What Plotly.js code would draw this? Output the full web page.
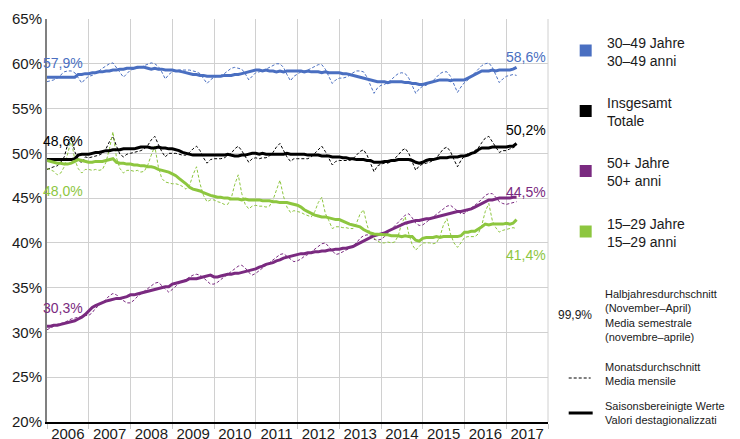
<!DOCTYPE html>
<html>
<head>
<meta charset="utf-8">
<script src="https://cdn.plot.ly/plotly-3.0.1.min.js"></script>
<style>html,body{margin:0;padding:0;background:#fff;}#chart{width:740px;height:439px;}</style>
</head>
<body>
<div id="chart"></div>
<script>
// ---- Data (monthly, Jan 2006 – Apr 2017) ----
const startYear = 2006;
const seriesNames = ["30–49 Jahre<br>30–49 anni", "Insgesamt<br>Totale", "50+ Jahre<br>50+ anni", "15–29 Jahre<br>15–29 anni"];
const seriesColors = ["#4a6fc1", "#000000", "#7a2a80", "#8dc63f"];
const startLabels = ["57,9%", "48,6%", "30,3%", "48,0%"];
const endLabels = ["58,6%", "50,2%", "44,5%", "41,4%"];

// 30–49 Jahre: seasonally adjusted
const sa3049 = [
58.5,58.5,58.5,58.5,58.5,58.5,58.5,58.5,58.5,58.8,58.8,58.9,
58.9,59.0,59.0,59.1,59.1,59.2,59.2,59.3,59.3,59.4,59.4,59.5,
59.5,59.5,59.6,59.6,59.6,59.5,59.4,59.5,59.4,59.4,59.3,59.3,
59.3,59.2,59.2,59.1,59.0,58.9,58.8,58.8,58.7,58.7,58.6,58.6,
58.6,58.6,58.6,58.7,58.7,58.7,58.8,58.8,58.9,59.0,59.1,59.2,
59.3,59.3,59.2,59.3,59.2,59.2,59.1,59.2,59.1,59.2,59.2,59.2,
59.2,59.2,59.1,59.2,59.1,59.1,59.1,59.0,59.1,59.0,59.0,59.0,
59.0,58.9,58.9,58.8,58.7,58.6,58.5,58.4,58.3,58.2,58.1,58.0,
58.0,58.0,57.9,58.0,58.0,58.0,58.0,57.9,57.9,57.8,57.8,57.7,
57.7,57.8,57.9,58.0,58.1,58.2,58.2,58.2,58.1,58.2,58.2,58.2,
58.2,58.4,58.6,58.8,59.0,59.2,59.2,59.2,59.3,59.2,59.3,59.3,
59.3,59.3,59.4,59.6];
// 30–49 Jahre: monthly average
const m3049 = [
58.0,58.1,58.2,58.4,58.8,59.1,59.2,59.2,59.0,58.5,57.85,58.3,
58.6,58.7,58.9,59.2,59.5,59.8,60.0,60.1,59.6,59.0,58.5,58.9,
59.3,59.4,59.5,59.6,59.8,60.0,60.1,60.0,59.7,59.1,58.3,58.8,
59.1,59.2,59.3,59.3,59.3,59.3,59.2,59.1,58.9,58.4,57.8,58.2,
58.5,58.6,58.7,58.9,59.2,59.5,59.6,59.5,59.4,58.9,58.2,58.6,
59.0,59.1,59.2,59.4,59.6,59.8,60.0,60.0,59.6,58.8,58.1,58.6,
58.9,59.1,59.2,59.3,59.5,59.7,59.9,59.9,59.4,58.6,57.8,58.2,
58.4,58.4,58.5,58.7,59.0,59.2,59.2,59.1,58.5,57.6,56.7,57.3,
57.6,57.7,57.9,58.2,58.6,58.9,59.0,58.9,58.4,57.5,56.7,57.2,
57.5,57.6,57.8,58.1,58.5,58.9,59.1,59.1,58.6,57.7,56.8,57.4,
57.9,58.2,58.6,59.0,59.4,59.8,60.0,60.1,59.6,58.8,57.9,58.3,
58.6,58.7,58.8,58.7];

// Insgesamt: seasonally adjusted
const saTot = [
49.3,49.3,49.3,49.3,49.3,49.3,49.3,49.3,49.4,49.8,49.9,49.9,
49.9,50.0,50.1,50.1,50.2,50.3,50.3,50.4,50.4,50.4,50.5,50.5,
50.5,50.5,50.6,50.7,50.7,50.7,50.6,50.6,50.7,50.6,50.6,50.5,
50.5,50.4,50.3,50.1,50.0,49.9,49.8,49.8,49.8,49.8,49.8,49.8,
49.8,49.8,49.8,49.8,49.9,49.8,49.7,49.7,49.8,49.8,49.9,50.0,
50.0,49.9,50.0,49.9,49.9,49.9,49.9,49.9,49.9,50.0,49.9,49.9,
49.9,49.9,49.9,49.8,49.8,49.8,49.8,49.7,49.7,49.7,49.6,49.6,
49.6,49.5,49.5,49.4,49.4,49.3,49.3,49.3,49.2,49.2,49.0,49.0,
49.0,49.1,49.1,49.2,49.2,49.3,49.3,49.3,49.3,49.2,49.0,48.9,
49.0,49.2,49.3,49.3,49.4,49.5,49.5,49.5,49.6,49.6,49.6,49.7,
49.7,49.8,50.0,50.1,50.4,50.6,50.6,50.6,50.7,50.7,50.7,50.7,
50.7,50.8,50.8,51.1];
// Insgesamt: monthly average
const mTot = [
48.2,48.4,48.5,48.6,49.0,49.6,51.0,51.9,50.2,49.3,48.9,49.6,
49.5,49.6,49.7,49.8,50.0,50.5,51.3,51.9,50.8,49.9,49.6,49.9,
50.0,50.1,50.2,50.3,50.5,50.9,51.5,51.9,51.0,50.2,49.6,50.0,
50.0,50.0,49.9,49.8,49.8,50.1,50.5,50.8,50.3,49.5,48.9,49.3,
49.4,49.4,49.4,49.5,49.7,50.0,50.5,50.8,50.3,49.6,49.0,49.4,
49.5,49.4,49.5,49.5,49.7,50.1,50.7,51.1,50.4,49.6,49.1,49.4,
49.4,49.4,49.4,49.4,49.6,50.0,50.5,50.8,50.2,49.4,48.7,49.1,
49.2,49.2,49.2,49.2,49.4,49.8,50.2,50.4,49.8,48.9,47.95,48.6,
48.8,48.9,48.9,49.1,49.4,49.8,50.3,50.55,50.0,49.0,48.1,48.6,
48.8,48.9,49.0,49.2,49.5,50.0,50.5,50.7,50.2,49.3,48.5,49.2,
49.7,50.0,50.0,50.3,50.6,51.2,51.7,51.9,51.3,50.6,50.1,50.3,
50.3,50.5,50.6,50.9];

// 50+ Jahre: seasonally adjusted
const sa50 = [
30.7,30.7,30.8,30.8,30.9,31.0,31.1,31.2,31.3,31.5,31.7,32.0,
32.4,32.8,33.0,33.2,33.3,33.5,33.6,33.7,33.8,33.8,33.9,34.0,
34.2,34.2,34.3,34.4,34.5,34.6,34.7,34.8,34.9,35.0,35.1,35.1,
35.4,35.5,35.6,35.7,35.8,36.0,36.0,36.0,36.1,36.2,36.3,36.4,
36.2,36.2,36.3,36.4,36.5,36.5,36.6,36.6,36.7,36.8,36.9,37.0,
37.1,37.3,37.4,37.6,37.7,37.8,38.0,38.1,38.3,38.4,38.5,38.6,
38.7,38.8,38.8,38.9,38.9,39.0,39.0,39.1,39.1,39.2,39.2,39.3,
39.3,39.4,39.4,39.5,39.6,39.8,40.0,40.2,40.4,40.6,40.8,40.9,
41.0,41.1,41.3,41.5,41.7,41.9,42.0,42.2,42.3,42.4,42.5,42.5,
42.6,42.7,42.7,42.8,42.9,43.0,43.1,43.2,43.3,43.4,43.5,43.5,
43.6,43.7,43.8,44.0,44.2,44.4,44.6,44.8,44.8,44.9,45.0,45.0,
45.0,45.0,45.1,45.1];
// 50+ Jahre: monthly average
const m50 = [
30.3,30.5,30.7,30.9,31.0,31.1,31.3,31.5,31.6,31.7,31.8,31.9,
31.9,32.2,32.7,33.0,33.3,33.7,34.1,34.35,34.2,33.8,33.5,33.3,
33.3,33.6,34.0,34.3,34.6,34.9,35.2,35.5,35.6,35.2,34.8,34.5,
34.8,35.2,35.5,35.7,35.9,36.2,36.4,36.5,36.4,36.1,35.7,35.4,
35.4,35.6,35.9,36.2,36.5,36.8,37.1,37.4,37.5,37.2,36.7,36.4,
36.6,36.9,37.2,37.5,37.8,38.1,38.4,38.7,38.8,38.5,38.1,37.9,
38.0,38.2,38.5,38.7,39.0,39.3,39.6,39.9,40.0,39.6,39.1,38.7,
38.8,39.0,39.2,39.4,39.7,40.0,40.5,40.8,40.9,40.8,40.4,40.3,
40.4,40.7,41.1,41.5,41.8,42.2,42.7,43.1,43.25,42.8,42.2,41.95,
42.0,42.3,42.6,42.9,43.2,43.5,43.8,44.1,44.2,43.9,43.5,43.25,
43.3,43.6,43.9,44.2,44.5,44.9,45.3,45.5,45.5,45.1,44.6,44.4,
44.3,44.4,44.5,44.6];

// 15–29 Jahre: seasonally adjusted
const sa1529 = [
49.2,49.1,49.0,48.9,48.9,48.8,48.8,48.9,49.1,49.3,49.2,49.1,
49.0,49.0,49.1,49.1,49.1,49.2,49.3,49.4,49.0,48.9,48.9,48.8,
48.8,48.7,48.7,48.6,48.6,48.5,48.5,48.4,48.2,48.1,48.0,47.9,
47.7,47.5,47.2,46.9,46.6,46.2,46.0,45.9,45.8,45.6,45.4,45.3,
45.2,45.1,45.1,45.0,45.0,44.9,44.9,44.9,44.8,44.9,44.8,44.8,
44.8,44.8,44.7,44.7,44.7,44.6,44.6,44.5,44.5,44.5,44.4,44.3,
44.2,44.0,43.7,43.5,43.3,43.1,43.0,42.9,42.9,42.8,42.7,42.6,
42.6,42.4,42.3,42.1,42.0,41.9,41.8,41.5,41.3,41.1,41.0,41.0,
40.95,40.9,40.9,40.8,40.8,40.8,40.7,40.8,40.7,40.7,40.3,40.2,
40.5,40.6,40.6,40.6,40.7,40.6,40.7,40.7,40.7,40.7,40.7,40.8,
41.2,41.2,41.3,41.3,41.5,41.8,42.1,42.0,42.1,42.1,42.1,42.1,
42.2,42.1,42.2,42.6];
// 15–29 Jahre: monthly average
const m1529 = [
48.3,48.1,48.0,47.6,47.8,48.5,50.0,51.5,49.3,48.3,47.8,48.2,
48.2,48.1,48.2,48.1,48.2,49.0,50.5,52.4,49.5,48.3,47.8,48.1,
48.1,48.0,48.1,47.9,48.0,48.7,49.8,50.8,48.5,47.2,46.8,46.7,
46.6,46.6,46.5,46.3,46.0,46.4,47.6,48.5,46.6,45.3,44.6,44.8,
44.8,44.6,44.5,44.3,44.3,45.0,46.5,47.6,45.5,44.3,43.8,44.1,
44.2,44.1,44.1,44.0,44.1,44.8,46.0,47.0,45.2,44.0,43.4,43.6,
43.5,43.4,43.2,43.0,42.9,43.5,44.5,45.1,43.3,42.5,41.6,41.8,
41.8,41.7,41.7,41.6,41.6,42.2,43.2,43.7,42.0,40.9,40.5,40.2,
40.0,40.0,40.1,40.0,40.1,40.8,42.2,42.9,41.0,39.8,39.2,39.6,
40.0,40.0,40.0,39.9,40.0,40.7,42.0,42.7,41.0,40.0,39.5,40.0,
40.6,40.7,40.7,40.7,41.0,42.0,43.5,44.4,42.5,41.7,41.2,41.4,
41.5,41.6,41.7,41.6];

const yTicks = [20,25,30,35,40,45,50,55,60,65];

// ---- Build ----
const months = sa3049.map((_, i) => {
  const y = startYear + Math.floor(i / 12);
  const m = (i % 12) + 1;
  return y + "-" + String(m).padStart(2, "0") + "-01";
});

const monthlySets = [m3049, mTot, m50, m1529];
const saSets = [sa3049, saTot, sa50, sa1529];

const traces = [];
monthlySets.forEach((arr, k) => {
  traces.push({x: months, y: arr, type: "scatter", mode: "lines",
    line: {color: seriesColors[k], width: 1, dash: "3px,2px"}, hoverinfo: "skip", showlegend: false});
});
saSets.forEach((arr, k) => {
  traces.push({x: months, y: arr, type: "scatter", mode: "lines",
    line: {color: seriesColors[k], width: 3}, hoverinfo: "skip", showlegend: false});
});

// plot area in pixels
const L = 47, R = 548.3, T = 19, B = 422;
const px = v => (v - L) / (R - L);
const py = v => (B - v) / (B - T);

const fontFam = "Liberation Sans, Arial, sans-serif";
const annotations = [];
const shapes = [];

// start / end labels (order: 30–49, Insgesamt, 50+, 15–29)
const startShift = [19, 28, 22, -22];
const endShift = [18, 15, 10, -26];
monthlySets.forEach((arr, k) => {
  annotations.push({x: months[0], y: arr[0], xref: "x", yref: "y", text: startLabels[k],
    showarrow: false, xanchor: "left", yanchor: "middle", xshift: -6, yshift: startShift[k],
    font: {family: fontFam, size: 14, color: seriesColors[k]}});
  annotations.push({x: 1, y: arr[arr.length - 1], xref: "paper", yref: "y", text: endLabels[k],
    showarrow: false, xanchor: "right", yanchor: "middle", xshift: 0, yshift: endShift[k],
    font: {family: fontFam, size: 14, color: seriesColors[k]}});
});

// legend
const legY = [50.5, 111, 171, 231.5];
seriesNames.forEach((name, k) => {
  shapes.push({type: "rect", xref: "paper", yref: "paper", x0: px(580), x1: px(592),
    y0: py(legY[k] + 6), y1: py(legY[k] - 6), fillcolor: seriesColors[k], line: {width: 0}});
  annotations.push({x: px(605), y: py(legY[k] + 1), xref: "paper", yref: "paper", text: name,
    showarrow: false, xanchor: "left", yanchor: "middle", align: "left",
    font: {family: fontFam, size: 14, color: "#1a1a1a"}});
});
annotations.push({x: px(575), y: py(315), xref: "paper", yref: "paper", text: "99,9%",
  showarrow: false, xanchor: "center", yanchor: "middle", font: {family: fontFam, size: 12, color: "#1a1a1a"}});
annotations.push({x: px(603), y: py(315), xref: "paper", yref: "paper",
  text: "Halbjahresdurchschnitt<br>(November–April)<br>Media semestrale<br>(novembre–aprile)",
  showarrow: false, xanchor: "left", yanchor: "middle", align: "left", font: {family: fontFam, size: 11, color: "#1a1a1a"}});
annotations.push({x: px(603), y: py(374), xref: "paper", yref: "paper",
  text: "Monatsdurchschnitt<br>Media mensile",
  showarrow: false, xanchor: "left", yanchor: "middle", align: "left", font: {family: fontFam, size: 11, color: "#1a1a1a"}});
annotations.push({x: px(603), y: py(412.5), xref: "paper", yref: "paper",
  text: "Saisonsbereinigte Werte<br>Valori destagionalizzati",
  showarrow: false, xanchor: "left", yanchor: "middle", align: "left", font: {family: fontFam, size: 11, color: "#1a1a1a"}});
shapes.push({type: "line", xref: "paper", yref: "paper", x0: px(569), x1: px(591), y0: py(378), y1: py(378),
  line: {color: "#000", width: 1, dash: "3px,2px"}});
shapes.push({type: "line", xref: "paper", yref: "paper", x0: px(569), x1: px(593), y0: py(413), y1: py(413),
  line: {color: "#000", width: 3}});
// right border gridline
shapes.push({type: "line", xref: "paper", yref: "paper", x0: 1, x1: 1, y0: 0, y1: 1,
  line: {color: "#d0d0d0", width: 1}, layer: "below"});

const layout = {
  width: 740, height: 439,
  margin: {l: L, r: 740 - R, t: T, b: 439 - B, pad: 0},
  paper_bgcolor: "#fff", plot_bgcolor: "#fff",
  font: {family: fontFam, size: 15, color: "#1a1a1a"},
  showlegend: false,
  xaxis: {
    type: "date", range: ["2006-01-01", "2018-01-01"],
    tick0: "2006-01-01", dtick: "M12", tickformat: "%Y", ticklabelmode: "period",
    showgrid: true, gridcolor: "#d0d0d0", gridwidth: 1,
    ticks: "outside", ticklen: 5, tickcolor: "#c8c8c8",
    ticklabelstandoff: -8,
    showline: true, linecolor: "#000", linewidth: 1.5,
    tickfont: {family: fontFam, size: 15, color: "#1a1a1a"},
    zeroline: false, automargin: false, fixedrange: true
  },
  yaxis: {
    range: [20, 65], tickvals: yTicks, ticktext: yTicks.map(v => v + "%"),
    showgrid: true, gridcolor: "#d0d0d0", gridwidth: 1,
    ticks: "", showline: true, linecolor: "#808080", linewidth: 2,
    tickfont: {family: fontFam, size: 15, color: "#1a1a1a"},
    zeroline: false, automargin: false, fixedrange: true
  },
  annotations: annotations,
  shapes: shapes
};

Plotly.newPlot("chart", traces, layout, {displayModeBar: false, staticPlot: true});
</script>
</body>
</html>
